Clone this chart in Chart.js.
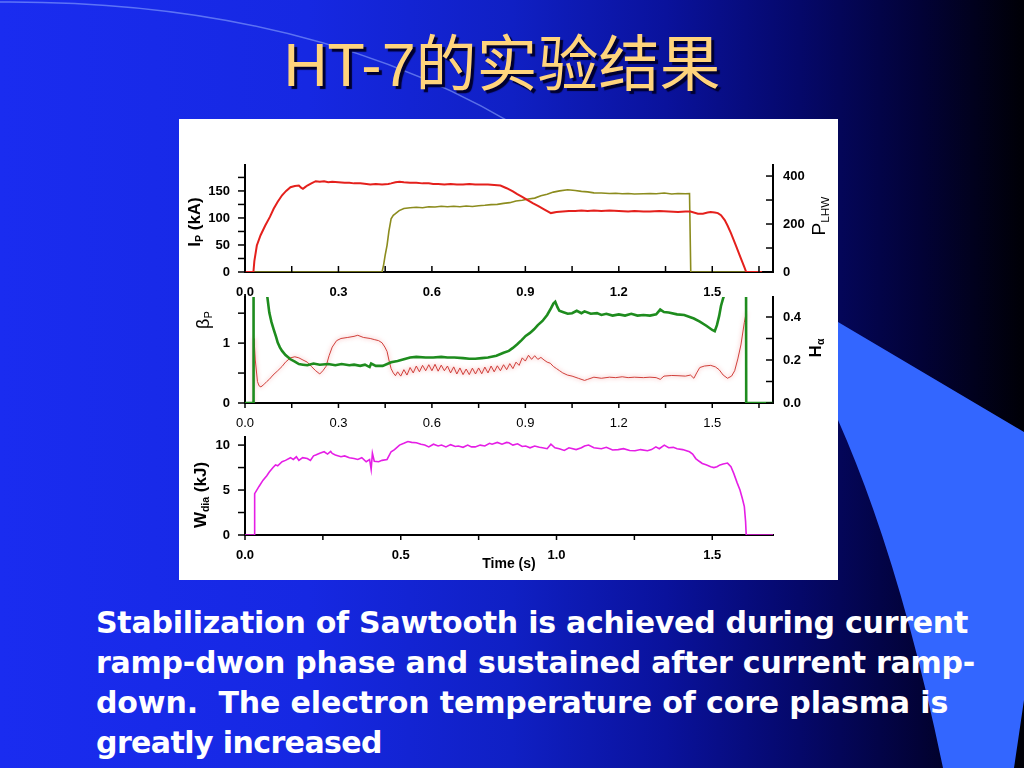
<!DOCTYPE html>
<html><head><meta charset="utf-8">
<script src="https://cdn.jsdelivr.net/npm/chart.js@4.4.1/dist/chart.umd.min.js"></script>
<style>
html,body{margin:0;padding:0;width:1024px;height:768px;overflow:hidden;background:#000;}
#slide{position:relative;width:1024px;height:768px;overflow:hidden;
 background:linear-gradient(90deg,#1a2cf0 0%,#1628e2 30%,#1020c4 50%,#0a129c 65%,#05086a 78%,#020236 90%,#000006 100%);}
#deco{position:absolute;left:0;top:0}
#title{position:absolute;left:0;top:35px;width:1004px;text-align:center;font-family:'Liberation Sans','Noto Sans CJK SC',sans-serif;font-size:61px;line-height:60px;color:#ffd47c;text-shadow:3px 3px 1px #000030;white-space:nowrap}
#panel{position:absolute;left:179px;top:119px;width:659px;height:461px;background:#fff}
canvas{position:absolute;left:179px;top:119px}
.at{position:absolute;transform:translate(-50%,-50%) rotate(-90deg);font-family:'Liberation Sans',Arial,sans-serif;color:#000;white-space:nowrap;line-height:1}
.at sub{font-size:62%;vertical-align:-0.3em}
#caption{position:absolute;left:96px;top:603px;font-family:'DejaVu Sans',sans-serif;font-weight:bold;font-size:30px;line-height:40px;color:#fff;white-space:pre}
#caption div{height:40px}
</style></head>
<body>
<div id="slide">
<svg id="deco" width="1024" height="768">
 <path d="M838,322 L1024,432 L1024,700 L1014,768 L943,768 Q900,560 838,420 Z" fill="#3366ff"/>
 <path d="M0,2 Q300,0 510,122" stroke="rgba(150,175,255,0.55)" stroke-width="1.5" fill="none"/>
</svg>
<div id="title">HT-7的实验结果</div>
<div id="panel"></div>
<canvas id="c1" width="659" height="461"></canvas>
<canvas id="c2" width="659" height="461"></canvas>
<canvas id="c3" width="659" height="461"></canvas>
<div class="at" style="left:195px;top:222px;font-size:17px;font-weight:bold">I<sub>P</sub> (kA)</div>
<div class="at" style="left:820px;top:216px;font-size:19px">P<sub>LHW</sub></div>
<div class="at" style="left:204px;top:320px;font-size:18px">β<sub>P</sub></div>
<div class="at" style="left:816px;top:348px;font-size:17px;font-weight:bold">H<sub>α</sub></div>
<div class="at" style="left:201px;top:495px;font-size:17px;font-weight:bold">W<sub>dia</sub> (kJ)</div>
<div id="caption"></div>
</div>
<script>
// ---------- data (time in s) ----------
const ipTime = [0,0.027,0.03,0.038,0.05,0.065,0.08,0.092,0.105,0.119,
0.132,0.146,0.16,0.173,0.18,0.186,0.193,0.2,0.213,0.227,
0.24,0.254,0.267,0.28,0.3,0.32,0.335,0.35,0.37,0.39,
0.402,0.42,0.44,0.46,0.469,0.483,0.496,0.51,0.53,0.55,
0.57,0.59,0.604,0.62,0.64,0.66,0.68,0.7,0.72,0.739,
0.76,0.78,0.8,0.82,0.84,0.86,0.874,0.89,0.91,0.925,
0.942,0.96,0.982,1.0,1.02,1.04,1.06,1.08,1.1,1.12,
1.144,1.17,1.2,1.23,1.25,1.279,1.3,1.33,1.36,1.39,
1.414,1.43,1.454,1.47,1.485,1.495,1.508,1.518,1.528,1.54,
1.549,1.56,1.576,1.59,1.603,1.609,1.66];
const ipKA = [0,0,20,49,68,86,102,117,130,142,
150,157,159,160,156,154,157,160,164,168,
167,168,166,167,166,165,165,164,164,163,
162,163,162,163,164,166,167,166,165,165,
164,164,163,163,162,163,162,162,163,162,
162,162,161,160,155,149,144,139,132,127,
122,116,109,111,112,113,113,114,113,114,
113,114,113,112,113,112,112,113,112,111,
112,112,108,108,110,111,110,109,105,96,
86,72,49,28,9,0,0];

const plhwTime = [0,0.44,0.445,0.45,0.456,0.462,0.469,0.476,0.483,0.495,
0.51,0.53,0.55,0.57,0.59,0.61,0.63,0.65,0.67,0.69,
0.71,0.73,0.75,0.77,0.79,0.81,0.83,0.85,0.87,0.89,
0.91,0.93,0.95,0.97,0.99,1.01,1.036,1.06,1.08,1.1,
1.12,1.144,1.17,1.19,1.211,1.23,1.25,1.279,1.3,1.32,
1.346,1.37,1.39,1.414,1.427,1.431,1.61];
const plhwKW = [0,0,30,70,111,170,222,236,243,256,
265,268,270,268,272,271,274,272,274,272,
275,273,276,278,281,282,286,289,296,299,
304,308,318,324,333,338,343,340,336,334,
330,329,327,328,326,327,325,326,327,326,
329,325,327,326,327,0,0];

const betaTime = [0,0.026,0.027,0.028,0.06,0.066,0.0715,0.078,0.085,0.092,
0.1,0.105,0.112,0.119,0.13,0.146,0.16,0.173,0.186,0.2,
0.22,0.24,0.267,0.29,0.31,0.335,0.35,0.37,0.385,0.4,
0.405,0.42,0.442,0.469,0.49,0.51,0.53,0.55,0.58,0.604,
0.63,0.65,0.672,0.7,0.72,0.739,0.76,0.78,0.807,0.83,
0.847,0.86,0.874,0.888,0.901,0.915,0.928,0.94,0.955,0.97,
0.982,0.99,0.996,1.003,1.009,1.02,1.036,1.05,1.065,1.08,
1.09,1.11,1.13,1.144,1.16,1.18,1.2,1.22,1.24,1.26,
1.279,1.3,1.32,1.333,1.345,1.36,1.387,1.41,1.441,1.46,
1.481,1.5,1.508,1.515,1.522,1.528,1.535,1.542,1.55,1.608,
1.609,1.7];
const betaP = [0,0,0,4,4,2.0,1.78,1.51,1.35,1.23,
1.1,1.01,0.93,0.87,0.8,0.73,0.69,0.65,0.64,0.63,
0.66,0.64,0.65,0.63,0.65,0.63,0.64,0.62,0.64,0.6,
0.66,0.62,0.62,0.68,0.7,0.73,0.76,0.77,0.76,0.76,
0.77,0.76,0.76,0.75,0.74,0.74,0.75,0.76,0.79,0.84,
0.87,0.92,0.98,1.05,1.12,1.17,1.23,1.3,1.37,1.47,
1.58,1.66,1.69,1.6,1.54,1.52,1.49,1.5,1.54,1.5,
1.53,1.49,1.5,1.47,1.49,1.46,1.48,1.46,1.49,1.46,
1.47,1.46,1.48,1.56,1.52,1.51,1.48,1.47,1.41,1.36,
1.29,1.22,1.2,1.3,1.45,1.62,1.75,1.85,4,4,
0,0];

const halphaTime = [0.027,0.029,0.033,0.04,0.045,0.051,0.06,0.07,0.078,0.09,
0.105,0.119,0.13,0.146,0.16,0.173,0.186,0.2,0.213,0.227,
0.24,0.25,0.26,0.27,0.28,0.294,0.308,0.33,0.35,0.362,
0.38,0.402,0.415,0.429,0.44,0.449,0.456,0.462,0.469,0.476,
0.483,0.49,0.5,0.51,0.52,0.53,0.54,0.55,0.56,0.57,
0.58,0.59,0.6,0.61,0.62,0.63,0.64,0.65,0.66,0.67,
0.68,0.69,0.7,0.71,0.72,0.73,0.74,0.75,0.76,0.77,
0.78,0.79,0.8,0.81,0.82,0.83,0.84,0.85,0.86,0.87,
0.88,0.89,0.9,0.91,0.92,0.93,0.94,0.95,0.96,0.97,
0.98,0.99,1.0,1.01,1.02,1.035,1.05,1.07,1.09,1.1,
1.12,1.144,1.17,1.19,1.211,1.23,1.25,1.279,1.3,1.32,
1.333,1.345,1.37,1.39,1.414,1.43,1.441,1.45,1.46,1.475,
1.495,1.51,1.522,1.535,1.549,1.562,1.572,1.582,1.592,1.603,
1.609];
const halpha = [0,0.3,0.2,0.1,0.08,0.075,0.085,0.1,0.11,0.13,
0.15,0.17,0.19,0.21,0.215,0.21,0.2,0.19,0.17,0.15,
0.135,0.15,0.17,0.22,0.26,0.29,0.3,0.305,0.31,0.315,
0.305,0.3,0.295,0.29,0.28,0.26,0.24,0.2,0.16,0.14,
0.127,0.145,0.125,0.155,0.13,0.165,0.14,0.172,0.145,0.175,
0.15,0.178,0.15,0.18,0.148,0.176,0.15,0.172,0.14,0.168,
0.135,0.163,0.132,0.158,0.132,0.162,0.135,0.163,0.136,0.167,
0.14,0.172,0.145,0.173,0.15,0.178,0.155,0.183,0.16,0.19,
0.175,0.21,0.195,0.222,0.203,0.22,0.203,0.212,0.2,0.19,
0.185,0.17,0.16,0.15,0.14,0.13,0.125,0.115,0.105,0.11,
0.12,0.115,0.12,0.118,0.122,0.118,0.12,0.118,0.12,0.118,
0.11,0.125,0.128,0.127,0.125,0.13,0.115,0.14,0.165,0.172,
0.175,0.168,0.155,0.13,0.115,0.125,0.15,0.205,0.27,0.375,
0.42];

const wdiaTime = [0,0.03,0.031,0.045,0.058,0.07,0.078,0.09,0.098,0.105,
0.119,0.13,0.146,0.155,0.165,0.173,0.185,0.2,0.21,0.22,
0.227,0.24,0.254,0.265,0.275,0.28,0.29,0.308,0.32,0.335,
0.35,0.362,0.375,0.389,0.4,0.405,0.409,0.415,0.429,0.44,
0.456,0.469,0.48,0.496,0.51,0.523,0.535,0.55,0.565,0.577,
0.59,0.605,0.62,0.631,0.645,0.66,0.675,0.685,0.7,0.715,
0.727,0.739,0.755,0.77,0.785,0.793,0.81,0.825,0.84,0.847,
0.86,0.875,0.89,0.901,0.915,0.93,0.945,0.955,0.97,0.982,
0.995,1.009,1.025,1.04,1.063,1.08,1.09,1.103,1.12,1.144,
1.16,1.18,1.198,1.215,1.235,1.252,1.27,1.292,1.305,1.319,
1.33,1.346,1.36,1.375,1.387,1.405,1.427,1.437,1.447,1.458,
1.468,1.48,1.495,1.505,1.515,1.525,1.535,1.549,1.56,1.569,
1.58,1.589,1.597,1.603,1.607,1.609,1.7];
const wdiaKJ = [0,0,4.6,5.4,6.1,6.6,7.0,7.5,7.8,7.7,
8.15,8.3,8.6,8.4,8.7,8.3,8.6,8.5,8.3,8.8,
8.9,9.1,9.26,9.0,9.3,9.07,8.9,8.7,8.8,8.6,
8.5,8.4,8.6,8.15,8.4,7.3,9.1,8.2,8.15,8.3,
8.4,9.26,9.5,10.0,10.2,10.4,10.3,10.26,10.1,10.0,
9.8,10.1,9.9,10.0,9.8,10.05,9.85,9.9,9.75,10.0,
9.8,9.8,10.0,9.9,10.2,10.1,10.3,10.1,10.3,10.26,
10.0,10.15,9.85,9.9,9.7,9.9,9.75,9.7,9.6,10.1,
9.7,9.6,9.4,9.7,9.5,9.7,9.9,10.0,9.7,9.6,
9.75,9.45,9.5,9.6,9.4,9.37,9.5,9.37,9.5,9.8,
9.6,10.0,9.7,9.75,9.6,9.5,9.26,9.0,8.5,8.2,
7.96,7.8,7.6,7.5,7.6,7.8,7.9,8.0,7.6,6.85,
5.8,5.0,4.0,3.15,1.5,0,0];

const captionLines = ['Stabilization of Sawtooth is achieved during current',
  'ramp-dwon phase and sustained after current ramp-',
  'down.  The electron temperature of core plasma is',
  'greatly increased'];
const captionWidths = [872, 879, 852, 286];

// ---------- helpers ----------
const FONT = "'Liberation Sans', Arial, Helvetica, sans-serif";
Chart.defaults.font.family = FONT;
Chart.defaults.color = '#000';
const pts = (xs, ys) => xs.map((x, i) => ({x: x, y: ys[i]}));
function fitTo(size){ return s => { if (s.isHorizontal()) s.height = size; else s.width = size; }; }
function majorLabel(major, dec){
  return v => { const k = v / major; return Math.abs(k - Math.round(k)) < 1e-6 ? (Math.round(k) * major).toFixed(dec) : ''; };
}
function axis(o){
  return {
    type: 'linear', position: o.position, min: o.min, max: o.max,
    afterFit: fitTo(o.size),
    grid: {display: false, drawTicks: false},
    border: {display: true, color: '#000', width: 2},
    title: o.title || {display: false},
    ticks: {stepSize: o.step, includeBounds: false, autoSkip: false, maxRotation: 0, minRotation: 0,
      padding: o.pad, color: '#000', font: {family: FONT, size: 13, weight: o.bold ? 'bold' : 'normal'},
      callback: majorLabel(o.major, o.dec)}
  };
}
function tickMarks(cfg){
  return {id: 'tickMarks', afterDraw(chart){
    const ctx = chart.ctx; ctx.save(); ctx.strokeStyle = '#000'; ctx.lineWidth = 1.5;
    Object.keys(cfg).forEach(id => {
      const s = chart.scales[id], c = cfg[id]; if (!s) return;
      s.ticks.forEach((t, i) => {
        const p = s.getPixelForTick(i);
        ctx.beginPath();
        if (s.isHorizontal()) {
          const y0 = s.top, d = c.dir === 'in' ? -c.len : c.len;
          ctx.moveTo(p, y0); ctx.lineTo(p, y0 + d);
        } else {
          const left = s.position === 'left', x0 = left ? s.right : s.left, outward = left ? -1 : 1;
          const d = (c.dir === 'in' ? -outward : outward) * c.len;
          ctx.moveTo(x0, p); ctx.lineTo(x0 + d, p);
        }
        ctx.stroke();
      });
    });
    ctx.restore();
  }};
}
// soft pink halo around a noisy dataset
function halo(index, color){
  return {id: 'halo' + index,
    beforeDatasetDraw(chart, args){ if (args.index === index){ chart.ctx.save(); chart.ctx.shadowColor = color; chart.ctx.shadowBlur = 4; } },
    afterDatasetDraw(chart, args){ if (args.index === index){ chart.ctx.restore(); } }};
}
function make(id, datasets, scales, padding, marks, extra){
  return new Chart(document.getElementById(id), {
    type: 'line',
    data: {datasets: datasets},
    options: {responsive: false, animation: false, devicePixelRatio: 1,
      layout: {padding: padding},
      plugins: {legend: {display: false}, tooltip: {enabled: false}},
      elements: {point: {radius: 0}, line: {tension: 0}},
      scales: scales},
    plugins: [tickMarks(marks)].concat(extra || [])
  });
}
const XMAX = 1.695;

// ---------- chart 1: Ip & P_LHW ----------
make('c1', [
  {data: pts(ipTime, ipKA), yAxisID: 'y', borderColor: '#e4201c', borderWidth: 2},
  {data: pts(plhwTime, plhwKW), yAxisID: 'y2', borderColor: '#8c8c1e', borderWidth: 1.6}
], {
  x: axis({position: 'bottom', min: 0, max: XMAX, step: 0.15, major: 0.3, dec: 1, size: 30, pad: 13, bold: true}),
  y: axis({position: 'left', min: 0, max: 198, step: 25, major: 50, dec: 0, size: 60, pad: 15, bold: true}),
  y2: axis({position: 'right', min: 0, max: 446, step: 100, major: 200, dec: 0, size: 55, pad: 10, bold: true})
}, {left: 6, right: 10, top: 46, bottom: 278},
{x: {dir: 'in', len: 6}, y: {dir: 'out', len: 7}, y2: {dir: 'in', len: 7}});

// ---------- chart 2: beta_p & H_alpha ----------
make('c2', [
  {data: pts(betaTime, betaP), yAxisID: 'y', borderColor: '#1e8c1e', borderWidth: 2.6},
  {data: pts(halphaTime, halpha), yAxisID: 'y2', borderColor: 'rgba(205,55,50,0.95)', borderWidth: 1}
], {
  x: axis({position: 'bottom', min: 0, max: XMAX, step: 0.15, major: 0.3, dec: 1, size: 30, pad: 13, bold: false}),
  y: axis({position: 'left', min: 0, max: 1.77, step: 0.5, major: 1, dec: 0, size: 60, pad: 15, bold: true}),
  y2: axis({position: 'right', min: 0, max: 0.493, step: 0.1, major: 0.2, dec: 1, size: 55, pad: 10, bold: true})
}, {left: 6, right: 10, top: 178, bottom: 147},
{x: {dir: 'out', len: 5}, y: {dir: 'out', len: 7}, y2: {dir: 'in', len: 7}},
[halo(1, 'rgba(240,120,120,0.9)')]);

// ---------- chart 3: W_dia ----------
make('c3', [
  {data: pts(wdiaTime, wdiaKJ), yAxisID: 'y', borderColor: '#e51ee5', borderWidth: 1.6}
], {
  x: axis({position: 'bottom', min: 0, max: XMAX, step: 0.25, major: 0.5, dec: 1, size: 45, pad: 13, bold: true,
    title: {display: true, text: 'Time (s)', color: '#000', font: {family: FONT, size: 14, weight: 'bold'}, padding: {top: 0, bottom: 7}}}),
  y: axis({position: 'left', min: 0, max: 10.9, step: 2.5, major: 5, dec: 0, size: 60, pad: 15, bold: true})
}, {left: 6, right: 65, top: 318, bottom: 0},
{x: {dir: 'out', len: 5}, y: {dir: 'out', len: 7}});

// ---------- caption ----------
const cap = document.getElementById('caption');
captionLines.forEach((t, i) => {
  const d = document.createElement('div');
  const s = document.createElement('span');
  s.textContent = t; d.appendChild(s); cap.appendChild(d);
  const w = s.getBoundingClientRect().width;
  s.style.letterSpacing = ((captionWidths[i] - w) / t.length).toFixed(2) + 'px';
});
</script>
</body></html>
